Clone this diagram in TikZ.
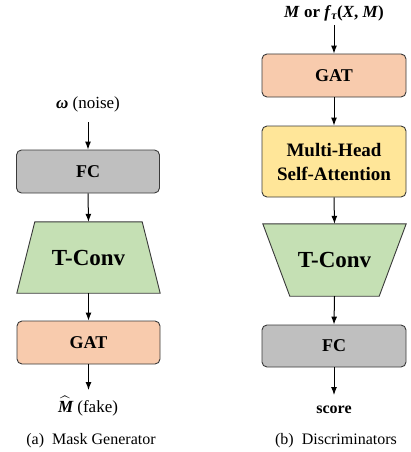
\documentclass[tikz,border=0pt]{standalone}
\usepackage{amsmath}
\usepackage{fontspec}
\setmainfont{Liberation Serif}
\newfontfamily\tnr{Liberation Serif}
\usetikzlibrary{arrows.meta,calc}
\definecolor{gatc}{HTML}{F8CBAD}
\definecolor{fcc}{HTML}{BFBFBF}
\definecolor{convc}{HTML}{C5E0B4}
\definecolor{attc}{HTML}{FFE699}
\definecolor{edgec}{HTML}{3A3A3A}
\tikzset{
  box/.style={draw=edgec, line width=0.9pt, rounded corners=5pt, minimum width=143pt, minimum height=43pt, inner sep=0pt, font=\tnr\fontsize{18}{20}\selectfont\bfseries, align=center},
  convframe/.style={inner sep=0pt, minimum width=143pt},
  convshape/.style={draw=edgec, line width=0.9pt, fill=convc, line join=miter},
  convtxt/.style={inner sep=0pt, font=\tnr\fontsize{23}{25}\selectfont\bfseries},
  lbl/.style={inner sep=0pt, font=\tnr\fontsize{17}{19}\selectfont},
  captxt/.style={inner sep=0pt, font=\tnr\fontsize{16}{18}\selectfont},
  arr/.style={-{Latex[length=8pt,width=6pt]}, line width=1pt, black}
}
\begin{document}
\begin{tikzpicture}[x=1pt,y=-1pt]
\useasboundingbox (0,0) rectangle (410,452);
% left column
\node[lbl] (noise) at (88,104) {\textbf{\textit{ω}} (noise)};
\node[box, fill=fcc] (fcl) at (88,171.5) {FC};
\node[convframe, minimum height=71pt] (convl) at (88.5,257.5) {};
\draw[convshape] ($(convl.north west)+(18,0)$) -- ($(convl.north east)+(-18,0)$) -- (convl.south east) -- (convl.south west) -- cycle;
\node[convtxt] (convltxt) at (convl.center) {T-Conv};
\node[box, fill=gatc] (gatl) at (88.5,342.5) {GAT};
\node[lbl] (mhat) at (88,406) {$\widehat{\text{\tnr\bfseries\itshape M}}$\ (fake)};
\node[captxt] (capa) at (91,441) {(a)\ \ Mask Generator};
\coordinate (n0) at (88,122);
\draw[arr] (n0) -- (fcl.north);
\draw[arr] (fcl.south) -- (convl.north);
\draw[arr] (convl.south) -- (gatl.north);
\coordinate (mend) at (88.5,390);
\draw[arr] (gatl.south) -- (mend);
% right column
\node[lbl, font=\tnr\fontsize{17}{19}\selectfont\bfseries] (inp) at (334,13) {\textit{M} or \textit{f}\raisebox{-0.35ex}{\fontsize{12}{12}\selectfont\textit{τ}}(\textit{X}, \textit{M})};
\node[box, fill=gatc, minimum width=144pt] (gatr) at (334,75.5) {GAT};
\node[box, fill=attc, minimum width=144pt, minimum height=71pt, font=\tnr\fontsize{19}{24}\selectfont\bfseries] (att) at (334,161.5) {Multi-Head\\Self-Attention};
\node[convframe, minimum height=72pt] (convr) at (334.5,260) {};
\draw[convshape] (convr.north west) -- (convr.north east) -- ($(convr.south east)+(-27,0)$) -- ($(convr.south west)+(27,0)$) -- cycle;
\node[convtxt] (convrtxt) at (convr.center) {T-Conv};
\node[box, fill=fcc, minimum width=144pt, minimum height=42pt] (fcr) at (334,346) {FC};
\node[lbl, font=\tnr\fontsize{16}{18}\selectfont\bfseries] (score) at (334,410) {score};
\node[captxt] (capb) at (336,441) {(b)\ \ Discriminators};
\coordinate (i0) at (334,25);
\draw[arr] (i0) -- (gatr.north);
\draw[arr] (gatr.south) -- (att.north);
\draw[arr] (att.south) -- (convr.north);
\draw[arr] (convr.south) -- (fcr.north);
\coordinate (send) at (334,395);
\draw[arr] (fcr.south) -- (send);
\end{tikzpicture}
\end{document}
